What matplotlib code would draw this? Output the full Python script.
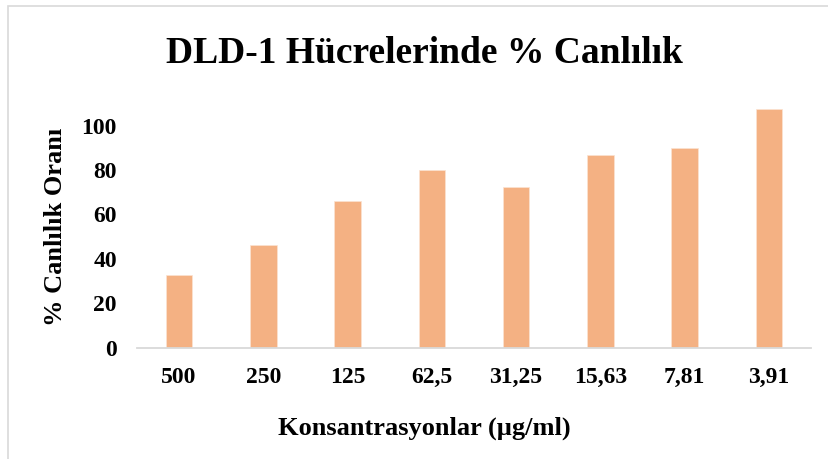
import matplotlib.pyplot as plt
from matplotlib.patches import Rectangle

# konsantrasyonlar ve canlilik oranlari
konsantrasyonlar = ['500', '250', '125', '62,5', '31,25', '15,63', '7,81', '3,91']
canlilik = [32.7, 46.2, 66.0, 80.0, 72.4, 86.7, 90.1, 107.5]
y_ticks = [0, 20, 40, 60, 80, 100]

FONT = 'Liberation Serif'
BAR_COLOR = '#F4B183'
GRAY = '#D9D9D9'

W, H = 829, 459
fig = plt.figure(figsize=(W / 100, H / 100), dpi=100)

# light frame around the chart (only left/top visible in the crop)
fig.patches.append(Rectangle((8.3 / W, -0.1), 1.2, 1 - 6.5 / H + 0.1,
                             transform=fig.transFigure, fill=False,
                             edgecolor=GRAY, linewidth=1.2))

ax = fig.add_axes([137 / W, 1 - 347.5 / H, 674 / W, 248.4 / H])
x = range(len(konsantrasyonlar))
ax.bar(x, canlilik, width=0.315, color=BAR_COLOR, edgecolor='#FBE3D2', linewidth=0.5)

ax.set_xlim(-0.5, len(konsantrasyonlar) - 0.5)
ax.set_ylim(0, 112)
ax.set_xticks(list(x))
ax.set_xticklabels(konsantrasyonlar)
ax.set_yticks(y_ticks)

for s in ['top', 'right', 'left']:
    ax.spines[s].set_visible(False)
ax.spines['bottom'].set_color(GRAY)
ax.spines['bottom'].set_linewidth(1.3)

ax.tick_params(axis='both', length=0)
ax.tick_params(axis='x', pad=14)
ax.tick_params(axis='y', pad=14.5)
for lab in ax.get_xticklabels() + ax.get_yticklabels():
    lab.set_fontfamily(FONT)
    lab.set_fontweight('bold')
    lab.set_fontsize(17)

fig.text(424 / W, 1 - 63.3 / H, 'DLD-1 Hücrelerinde % Canlılık', family=FONT,
         fontweight='bold', fontsize=27, ha='center', va='baseline')
fig.text(424 / W, 1 - 434.2 / H, 'Konsantrasyonlar (µg/ml)', family=FONT,
         fontweight='bold', fontsize=19, ha='center', va='baseline')
fig.text(61.7 / W, 1 - 226.5 / H, '% Canlılık Oranı', family=FONT,
         fontweight='bold', fontsize=19, ha='center', va='baseline',
         rotation=90, rotation_mode='anchor')

fig.savefig('out.png', dpi=100)
